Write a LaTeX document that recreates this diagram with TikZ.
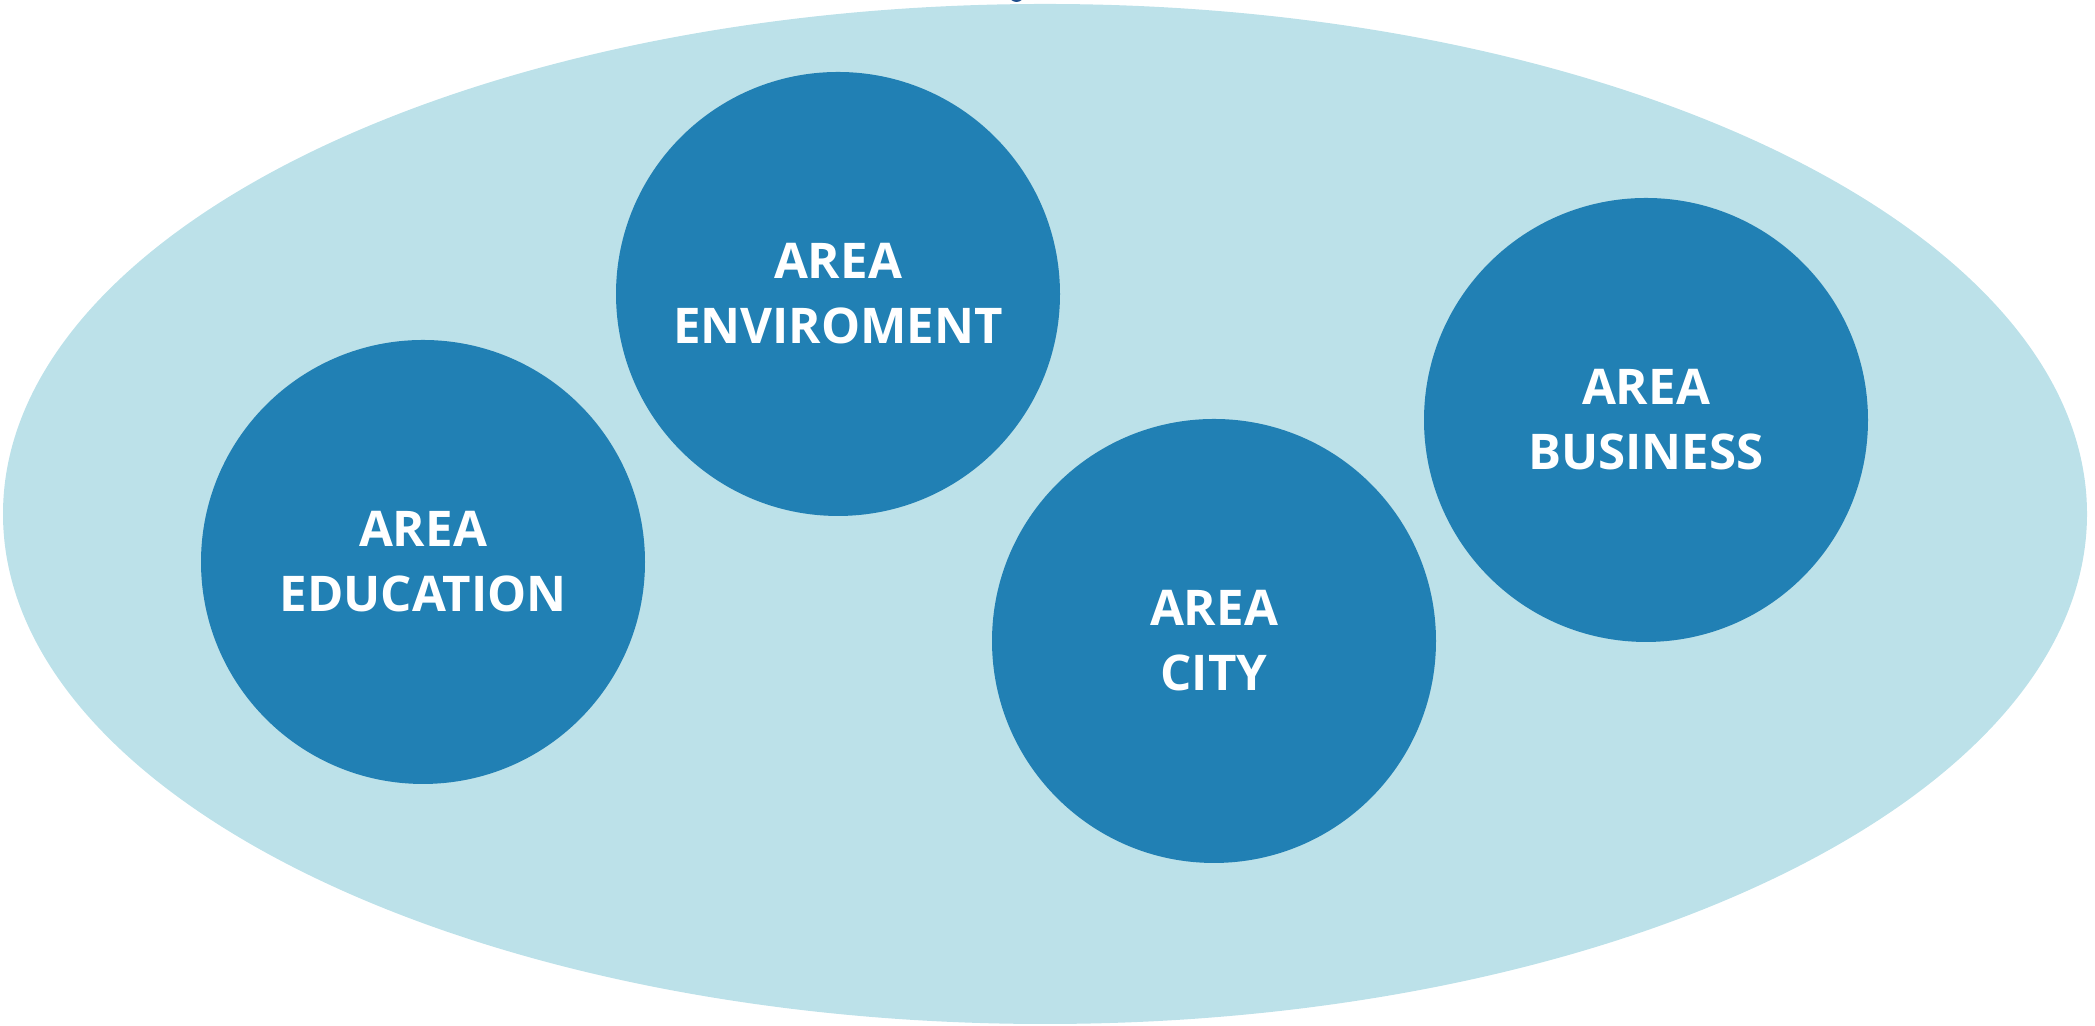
\documentclass[tikz,border=0pt]{standalone}
\usepackage{fontspec}
\setmainfont{Open Sans}
\usepackage{tikz}
\definecolor{areablue}{HTML}{2180B4}
\definecolor{fieldblue}{HTML}{BCE1E9}
\definecolor{markblue}{HTML}{1F4E8C}
\tikzset{
    area/.style={shape=circle, fill=areablue, inner sep=0pt, minimum size=4.44cm,
        text=white, align=center, font=\fontsize{14}{18.5}\selectfont\bfseries}
}

\begin{document}
\begin{tikzpicture}
    \useasboundingbox (0,0) rectangle (20.95,10.26);

                \fill[fieldblue] (10.45,5.12) ellipse (10.42 and 5.10);
                \fill[markblue] (10.165,10.31) ellipse (0.075 and 0.07);

                \node[area] (edu) at (4.23,4.64) {AREA\\EDUCATION};
                \node[area] (env) at (8.38,7.32) {AREA\\ENVIROMENT};
                \node[area] (city) at (12.14,3.85) {AREA\\CITY};
                \node[area] (bus) at (16.46,6.06) {AREA\\BUSINESS};

            \end{tikzpicture}
\end{document}
